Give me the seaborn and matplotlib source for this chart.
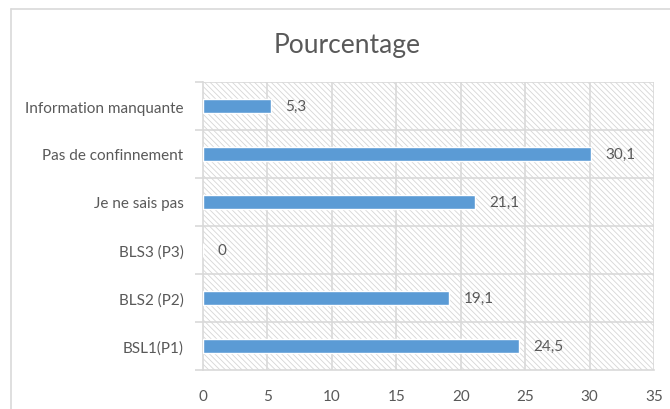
import matplotlib
matplotlib.use("Agg")
import matplotlib.pyplot as plt
import seaborn as sns
import pandas as pd
from matplotlib.patches import Rectangle

categories = ["Information manquante", "Pas de confinnement", "Je ne sais pas",
              "BLS3 (P3)", "BLS2 (P2)", "BSL1(P1)"]
values = [5.3, 30.1, 21.1, 0, 19.1, 24.5]
xticks = [0, 5, 10, 15, 20, 25, 30, 35]
title = "Pourcentage"

df = pd.DataFrame({"cat": categories, "val": values})

sns.set_theme(style="white")
plt.rcParams['font.family'] = ['Lato', 'DejaVu Sans']
plt.rcParams['hatch.linewidth'] = 0.6

txt = "#595959"
grid = "#d9d9d9"

fig = plt.figure(figsize=(6.7, 4.1), dpi=100)
# outer chart border (left and top only visible)
fig.add_artist(plt.Line2D([11/670, 11/670], [0, 1 - 10/410], color=grid, lw=1.2, transform=fig.transFigure))
fig.add_artist(plt.Line2D([11/670, 1], [1 - 10/410, 1 - 10/410], color=grid, lw=1.2, transform=fig.transFigure))

ax = fig.add_axes([203/670, 1 - 371/410, (654 - 203)/670, (371 - 83)/410])

# hatched background
ax.add_patch(Rectangle((0, 0), 1, 1, transform=ax.transAxes, facecolor="none",
                       edgecolor="#d6d6d6", hatch="\\" * 6, lw=0, zorder=0))

sns.barplot(data=df, x="val", y="cat", orient="h", color="#5b9bd5",
            width=0.3, ax=ax, zorder=3, saturation=1)

ax.set_xlim(0, 35)
ax.set_ylim(len(categories) - 0.5, -0.5)
ax.set_xticks(xticks)
ax.set_xticklabels([str(t) for t in xticks])
for x in xticks[1:]:
    ax.axvline(x, color=grid, lw=1.2, zorder=1)
for i in range(len(categories) - 1):
    ax.axhline(i + 0.5, color=grid, lw=1.2, zorder=1)
ax.axhline(-0.5, color=grid, lw=1.2, zorder=1)

for s in ["top", "right"]:
    ax.spines[s].set_visible(False)
for s in ["left", "bottom"]:
    ax.spines[s].set_color(grid)
    ax.spines[s].set_linewidth(1.2)

ax.set_yticks(range(len(categories)))
ax.set_yticklabels(categories)
ax.set_yticks([i + 0.5 for i in range(len(categories) - 1)] + [len(categories) - 0.5, -0.5], minor=True)
ax.tick_params(axis="y", which="major", length=0, pad=14, labelsize=11, labelcolor=txt)
ax.tick_params(axis="y", which="minor", length=6, color=grid, width=1.2, left=True)
ax.tick_params(axis="x", length=0, pad=14, labelsize=11, labelcolor=txt)
ax.set_xlabel("")
ax.set_ylabel("")

for i, v in enumerate(values):
    ax.text(v + 1.1, i, f"{v:g}".replace(".", ","), va="center", ha="left",
            fontsize=11, color=txt, zorder=4)

fig.text(347/670, 1 - 45/410, title, ha="center", va="center", fontsize=19, color=txt)

fig.savefig("out.png", dpi=100)
